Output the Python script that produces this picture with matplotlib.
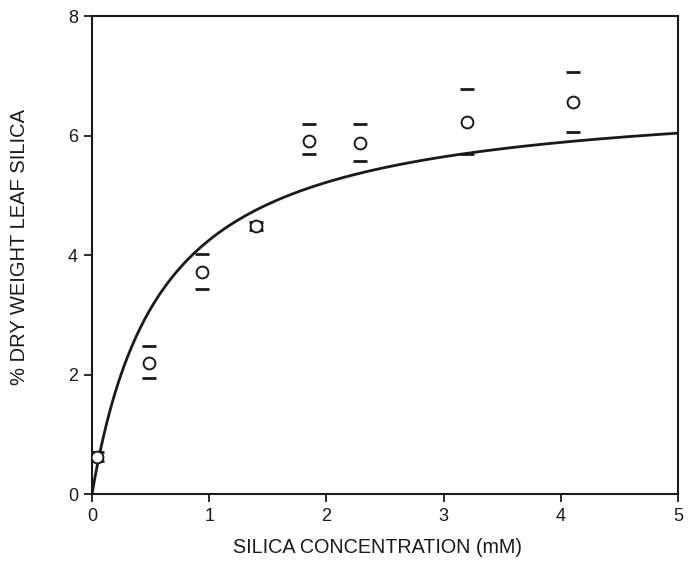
import numpy as np
import matplotlib.pyplot as plt

plt.rcParams['font.family'] = ['Liberation Sans', 'DejaVu Sans']

# measured points: silica concentration (mM) vs % dry weight leaf silica
conc = [0.04, 0.49, 0.94, 1.40, 1.85, 2.29, 3.20, 4.10]
silica = [0.62, 2.20, 3.71, 4.49, 5.91, 5.88, 6.22, 6.56]
upper = [0.70, 2.47, 4.02, 4.56, 6.19, 6.19, 6.78, 7.06]
lower = [0.55, 1.94, 3.43, 4.42, 5.69, 5.58, 5.69, 6.06]

# saturation curve drawn through the data (Michaelis-Menten type)
vmax = 6.75
km = 0.588

x_ticks = [0, 1, 2, 3, 4, 5]
y_ticks = [0, 2, 4, 6, 8]

ink = '#1a1a1a'

fig = plt.figure(figsize=(6.96, 5.78), dpi=100)
ax = fig.add_axes([0.1322, 0.1453, 0.842, 0.827])

xc = np.linspace(0, 5, 400)
ax.plot(xc, vmax * xc / (km + xc), color=ink, lw=2.0, zorder=2)

ax.plot(conc, upper, ls='none', marker='_', ms=10, mew=2.0, color=ink, zorder=3)
ax.plot(conc, lower, ls='none', marker='_', ms=10, mew=2.0, color=ink, zorder=3)
ax.plot(conc, silica, ls='none', marker='o', ms=8.5, mew=1.4,
        mfc='white', mec=ink, zorder=4)

ax.set_xlim(0, 5)
ax.set_ylim(0, 8)
ax.set_xticks(x_ticks)
ax.set_yticks(y_ticks)
ax.tick_params(direction='out', length=6, width=1.3, colors=ink,
               labelsize=13, pad=4)
for s in ax.spines.values():
    s.set_linewidth(1.5)
    s.set_color(ink)

fig.text(0.542, 0.052, 'SILICA CONCENTRATION (mM)', ha='center', va='center',
         fontsize=14.2, color=ink)
fig.text(0.028, 0.572, '% DRY WEIGHT LEAF SILICA', ha='center', va='center',
         rotation=90, fontsize=14.5, color=ink)

fig.savefig('out.png', dpi=100)
